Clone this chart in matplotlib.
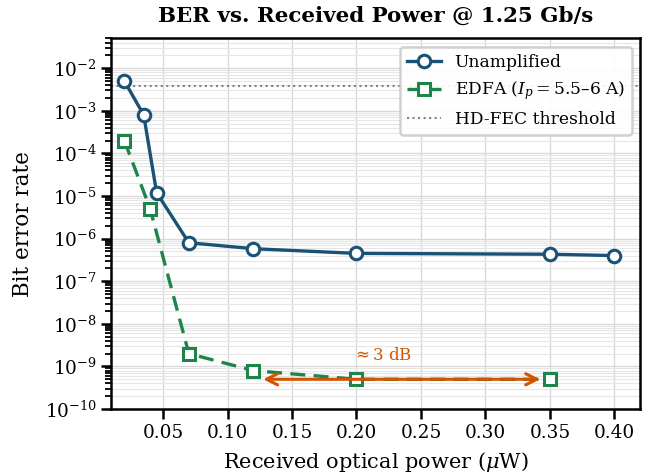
import matplotlib
matplotlib.use("Agg")
import matplotlib.pyplot as plt
import numpy as np

plt.rcParams['font.family'] = ['DejaVu Serif']
plt.rcParams['mathtext.fontset'] = 'dejavuserif'

# Data
power_unamp = [0.02, 0.035, 0.045, 0.07, 0.12, 0.20, 0.35, 0.40]
ber_unamp = [5e-3, 8e-4, 1.2e-5, 8e-7, 5.8e-7, 4.5e-7, 4.3e-7, 4.0e-7]
power_edfa = [0.02, 0.04, 0.07, 0.12, 0.20, 0.35]
ber_edfa = [2e-4, 5e-6, 2e-9, 8e-10, 5e-10, 5e-10]
hd_fec = 3.8e-3
xticks = [0.05, 0.10, 0.15, 0.20, 0.25, 0.30, 0.35, 0.40]

blue = '#1a5276'
green = '#1e8449'
orange = '#d35400'

fig, ax = plt.subplots(figsize=(6.48, 4.74), dpi=100)

ax.plot(power_unamp, ber_unamp, '-o', color=blue, lw=2.4, ms=9,
        mfc='white', mec=blue, mew=2.2, label='Unamplified', zorder=4)
ax.plot(power_edfa, ber_edfa, '--s', color=green, lw=2.4, ms=8,
        mfc='white', mec=green, mew=2.2, label=r'EDFA ($I_p = 5.5$–$6$ A)',
        dashes=(4.5, 2.5), zorder=4)
ax.axhline(hd_fec, color='grey', ls=':', lw=1.5, label='HD-FEC threshold', zorder=2)

ax.annotate('', xy=(0.12, 5e-10), xytext=(0.35, 5e-10),
            arrowprops=dict(arrowstyle='<->', color=orange, lw=2.2,
                            shrinkA=7, shrinkB=7, mutation_scale=20), zorder=5)
ax.text(0.22, 1.85e-9, r'$\approx 3$ dB', color=orange, ha='center', va='center',
        fontsize=12)

ax.set_yscale('log')
ax.set_xlim(0.01, 0.42)
ax.set_ylim(1e-10, 5e-2)
ax.set_xticks(xticks)
ax.set_xticklabels([f'{v:.2f}' for v in xticks])
ax.set_yticks([10.0**k for k in range(-10, -1)])

ax.grid(True, which='major', color='#d9d9d9', lw=1.0)
ax.grid(True, which='minor', axis='y', color='#e6e6e6', lw=0.8)
ax.set_axisbelow(True)

for s in ax.spines.values():
    s.set_linewidth(1.8)
ax.tick_params(which='major', length=7, width=1.8, labelsize=13.3)
ax.tick_params(which='minor', length=4, width=1.3)

ax.set_xlabel(r'Received optical power ($\mu$W)', fontsize=15, labelpad=6)
ax.set_ylabel('Bit error rate', fontsize=15.5, labelpad=8)
ax.set_title('BER vs. Received Power @ 1.25 Gb/s', fontsize=15.4, fontweight='bold', pad=12)

leg = ax.legend(loc='upper right', fontsize=12.3, framealpha=0.9, edgecolor='#cccccc',
                fancybox=True)
leg.get_frame().set_linewidth(1.8)

fig.subplots_adjust(left=0.172, right=0.988, top=0.919, bottom=0.137)
fig.savefig('out.png', dpi=100)
